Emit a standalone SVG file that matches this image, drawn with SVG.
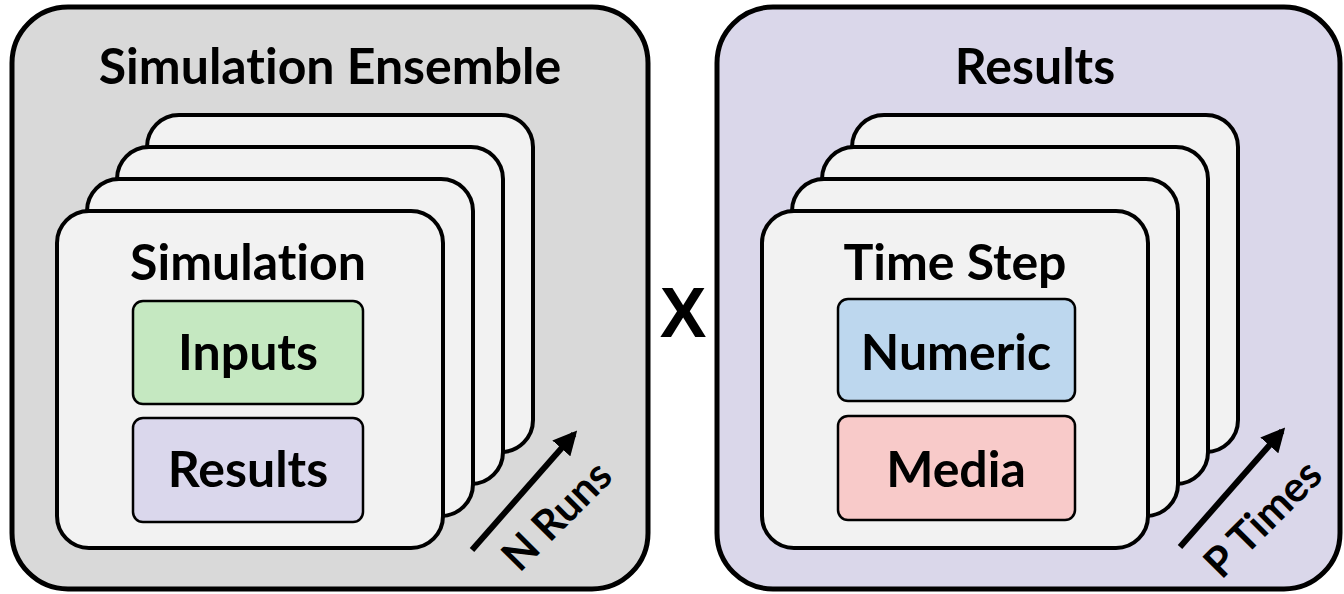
<svg xmlns="http://www.w3.org/2000/svg" width="1344" height="594" viewBox="0 0 1344 594">
  <style>
    .panel { stroke: #000; stroke-width: 5; }
    .card { fill: #f2f2f2; stroke: #000; stroke-width: 4; }
    .item { stroke: #000; stroke-width: 2.5; }
    text { font-variant-ligatures: none; }
    .title { font-family: Lato, "Open Sans", sans-serif; font-weight: bold; font-size: 50px; fill: #000; text-anchor: middle; }
    .label { font-family: Lato, "Open Sans", sans-serif; font-weight: bold; font-size: 42px; fill: #000; text-anchor: middle; }
    .arrow { stroke: #000; stroke-width: 6; fill: none; }
  </style>
  <defs>
    <marker id="head" viewBox="0 0 10 10" refX="8" refY="5" markerWidth="4" markerHeight="4" orient="auto" markerUnits="strokeWidth">
      <path d="M0,0 L10,5 L0,10 z" fill="#000"/>
    </marker>
  </defs>
  <rect width="1344" height="594" fill="#fff"/>

  <!-- Ensemble panel -->
  <g id="ensemble">
    <rect class="panel" x="12" y="7" width="636" height="582" rx="56" fill="#d9d9d9"/>
    <text class="title" x="330" y="84">Simulation Ensemble</text>
  </g>
  <g id="run-stack">
    <rect class="card" x="147" y="115" width="386" height="337" rx="32"/>
    <rect class="card" x="117" y="147" width="386" height="337" rx="32"/>
    <rect class="card" x="87" y="179" width="386" height="337" rx="32"/>
    <rect class="card" x="57" y="211" width="386" height="337" rx="32"/>
    <text class="title" x="248" y="280">Simulation</text>
  </g>
  <g id="inputs">
    <rect class="item" x="133" y="301" width="230" height="103" rx="10" fill="#c5e8c1"/>
    <text class="title" x="248" y="370">Inputs</text>
  </g>
  <g id="run-results">
    <rect class="item" x="133" y="418" width="230" height="104" rx="10" fill="#dad7ec"/>
    <text class="title" x="248" y="487">Results</text>
  </g>

  <!-- Product sign -->
  <g id="times">
    <text x="683" y="337" font-family="Liberation Sans, Arial, sans-serif" font-weight="bold" font-size="70" text-anchor="middle">X</text>
  </g>

  <!-- Results panel -->
  <g id="results">
    <rect class="panel" x="717" y="7" width="623" height="582" rx="56" fill="#dad7ea"/>
    <text class="title" x="1035" y="84">Results</text>
  </g>
  <g id="step-stack">
    <rect class="card" x="852" y="115" width="386" height="337" rx="32"/>
    <rect class="card" x="822" y="147" width="386" height="337" rx="32"/>
    <rect class="card" x="792" y="179" width="386" height="337" rx="32"/>
    <rect class="card" x="762" y="211" width="386" height="337" rx="32"/>
    <text class="title" x="955" y="280">Time Step</text>
  </g>
  <g id="numeric">
    <rect class="item" x="838" y="299" width="237" height="102" rx="10" fill="#bdd7ee"/>
    <text class="title" x="956" y="370">Numeric</text>
  </g>
  <g id="media">
    <rect class="item" x="838" y="416" width="237" height="104" rx="10" fill="#f8cac9"/>
    <text class="title" x="956" y="487">Media</text>
  </g>

  <!-- Count arrows -->
  <g id="connectors">
    <line class="arrow" x1="472" y1="550" x2="574" y2="434" marker-end="url(#head)"/>
    <line class="arrow" x1="1180" y1="547" x2="1282" y2="431" marker-end="url(#head)"/>
  </g>
  <g id="n-runs">
    <text class="label" transform="translate(567,526) rotate(-45)" x="0" y="0">N Runs</text>
  </g>
  <g id="p-times">
    <text class="label" transform="translate(1273,529) rotate(-45)" x="0" y="0">P Times</text>
  </g>
</svg>
